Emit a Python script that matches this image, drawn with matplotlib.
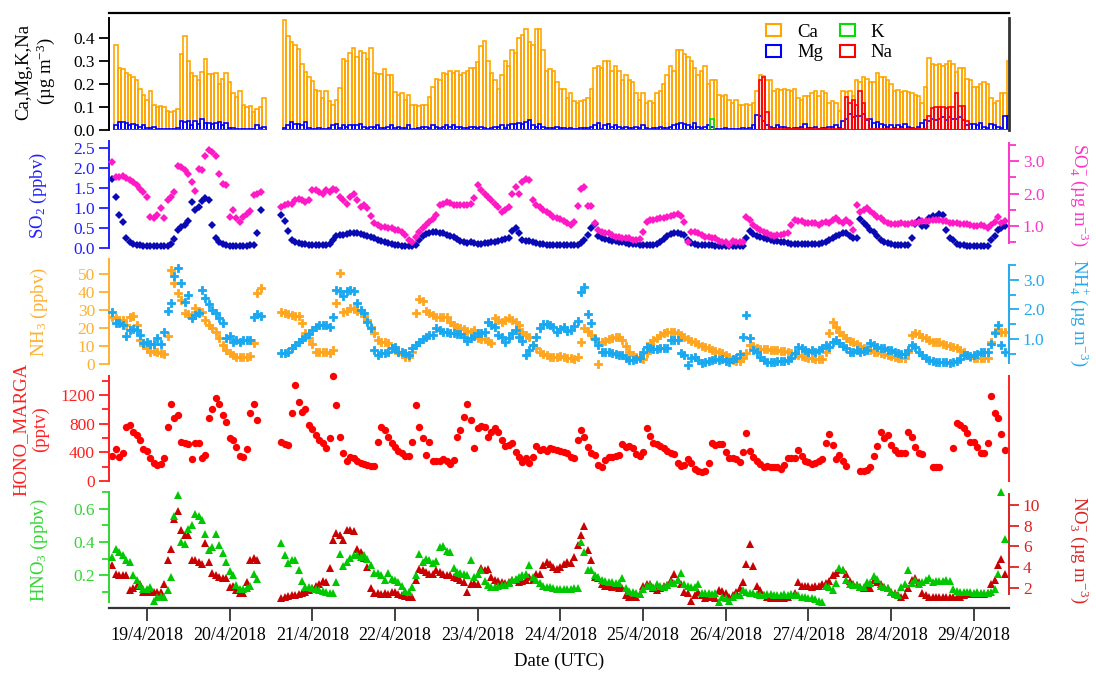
import numpy as np
import pandas as pd
import matplotlib
matplotlib.use("Agg")
import matplotlib.pyplot as plt
import matplotlib.dates as mdates
from matplotlib.patches import Patch
from matplotlib.ticker import FixedLocator, FormatStrFormatter, FuncFormatter

plt.rcParams["font.family"] = ["Liberation Serif", "DejaVu Serif"]
plt.rcParams["mathtext.fontset"] = "custom"
plt.rcParams["mathtext.rm"] = "Liberation Serif"
plt.rcParams["mathtext.it"] = "Liberation Serif:italic"
plt.rcParams["mathtext.default"] = "regular"

nan = float("nan")

# -------------------------------------------------
# DATA (hourly values, two runs with a gap on 20/4)
# -------------------------------------------------
t_run1 = pd.date_range("2018-04-18 14:00", "2018-04-20 09:00", freq="h")
t_run2 = pd.date_range("2018-04-20 15:00", "2018-04-29 09:00", freq="h")

date_ticks = pd.date_range("2018-04-19", "2018-04-29", freq="D")
date_labels = ["19/4/2018", "20/4/2018", "21/4/2018", "22/4/2018", "23/4/2018", "24/4/2018",
               "25/4/2018", "26/4/2018", "27/4/2018", "28/4/2018", "29/4/2018"]

# aerosol cations (ug m-3)
ca_1 = [0.37, 0.27, 0.265, 0.25, 0.24, 0.23, 0.22, 0.18, 0.155, 0.13,
        0.17, 0.11, 0.10, 0.105, 0.10, 0.085, 0.08, 0.085, 0.09, 0.33,
        0.41, 0.30, 0.25, 0.235, 0.22, 0.255, 0.31, 0.245, 0.245, 0.25,
        0.20, 0.225, 0.25, 0.21, 0.16, 0.145, 0.17, 0.11, 0.10, 0.105,
        0.08, 0.09, 0.10, 0.14]
ca_2 = [0.48, 0.41, 0.385, 0.37, 0.355, 0.29, 0.255, 0.23, 0.215,
        0.175, 0.17, 0.14, 0.17, 0.125, 0.11, 0.13, 0.185, 0.31, 0.30, 0.335, 0.36, 0.32, 0.345, 0.335, 0.31, 0.36, 0.25, 0.245, 0.245, 0.265, 0.24, 0.24, 0.165,
        0.155, 0.16, 0.13, 0.155, 0.11, 0.11, 0.105, 0.11, 0.11, 0.145, 0.19, 0.225, 0.22, 0.25, 0.245, 0.26, 0.25, 0.26, 0.24, 0.25, 0.26, 0.27, 0.27, 0.295,
        0.365, 0.39, 0.30, 0.25, 0.22, 0.18, 0.24, 0.30, 0.28, 0.35, 0.335, 0.40, 0.415, 0.44, 0.385, 0.37, 0.44, 0.44, 0.35, 0.26, 0.265, 0.26, 0.21, 0.18,
        0.18, 0.14, 0.16, 0.125, 0.12, 0.125, 0.13, 0.14, 0.18, 0.27, 0.28, 0.27, 0.30, 0.30, 0.26, 0.28, 0.26, 0.22, 0.24, 0.22, 0.21, 0.16, 0.13, 0.16,
        0.12, 0.125, 0.12, 0.16, 0.17, 0.20, 0.24, 0.28, 0.26, 0.35, 0.35, 0.33, 0.32, 0.30, 0.27, 0.24, 0.26, 0.28, 0.20, 0.22, 0.22, 0.155, 0.15, 0.155,
        0.13, 0.12, 0.13, 0.11, 0.11, 0.115, 0.11, 0.12, 0.17, 0.24, 0.235, 0.22, 0.22, 0.17, 0.18, 0.175, 0.18, 0.175, 0.17, 0.18, 0.14, 0.13, 0.15, 0.15,
        0.16, 0.17, 0.15, 0.17, 0.16, 0.12, 0.125, 0.12, 0.085, 0.17, 0.165, 0.17, 0.15, 0.22, 0.21, 0.23, 0.225, 0.21, 0.21, 0.25, 0.23, 0.23, 0.22, 0.20,
        0.17, 0.175, 0.165, 0.17, 0.165, 0.16, 0.155, 0.15, 0.12, 0.19, 0.315, 0.29, 0.285, 0.29, 0.28, 0.29, 0.30, 0.29, 0.255, 0.27, 0.27, 0.225, 0.22, 0.19,
        0.19, 0.20, 0.21, 0.20, 0.14, 0.12, 0.125, 0.16, 0.16, 0.30]

mg_1 = [0.02, 0.035, 0.035, 0.03, 0.02, 0.025, 0.02, 0.015, 0.02, 0.01,
        0.01, 0.015, 0.005, 0.005, 0.005, 0.005, 0.005, 0.005, 0.01, 0.04,
        0.035, 0.04, 0.02, 0.04, 0.025, 0.05, 0.03, 0.03, 0.025, 0.03,
        0.035, 0.02, 0.03, 0.01, 0.01, 0.005, 0.005, 0.005, 0.005, 0.005,
        0.005, 0.02, 0.01, 0.015]
mg_2 = [0.01, 0.02, 0.035, 0.025, 0.025, 0.02, 0.035, 0.01, 0.005,
        0.005, 0.01, 0.005, 0.005, 0.01, 0.02, 0.025, 0.01, 0.02, 0.015, 0.02, 0.02, 0.02, 0.025, 0.015, 0.01, 0.015, 0.015, 0.02, 0.01, 0.01, 0.015, 0.02, 0.01,
        0.015, 0.01, 0.01, 0.02, 0.005, 0.005, 0.01, 0.015, 0.015, 0.01, 0.02, 0.015, 0.01, 0.015, 0.02, 0.015, 0.02, 0.015, 0.015, 0.01, 0.01, 0.015, 0.015, 0.01,
        0.015, 0.01, 0.005, 0.01, 0.015, 0.015, 0.02, 0.01, 0.02, 0.025, 0.025, 0.03, 0.025, 0.035, 0.045, 0.02, 0.015, 0.025, 0.015, 0.01, 0.01, 0.01, 0.015, 0.01,
        0.01, 0.005, 0.01, 0.005, 0.005, 0.01, 0.01, 0.01, 0.015, 0.02, 0.03, 0.005, 0.02, 0.025, 0.015, 0.02, 0.015, 0.01, 0.015, 0.01, 0.01, 0.015, 0.01, 0.02,
        0.01, 0.005, 0.01, 0.01, 0.015, 0.01, 0.01, 0.015, 0.02, 0.025, 0.03, 0.025, 0.02, 0.015, 0.03, 0.015, 0.01, 0.015, 0.02, 0.015, 0.005, 0.005, 0.005, 0.01,
        0.005, 0.005, 0.005, 0.005, 0.01, 0.005, 0.01, 0.02, 0.065, 0.06, 0.04, 0.02, 0.015, 0.01, 0.02, 0.015, 0.015, 0.01, 0.005, 0.01, 0.01, 0.015, 0.025, 0.01,
        0.01, 0.015, 0.005, 0.01, 0.01, 0.015, 0.015, 0.02, 0.01, 0.04, 0.05, 0.07, 0.055, 0.06, 0.06, 0.07, 0.045, 0.05, 0.03, 0.035, 0.025, 0.02, 0.015, 0.02,
        0.01, 0.02, 0.015, 0.025, 0.015, 0.01, 0.005, 0.015, 0.03, 0.045, 0.04, 0.05, 0.045, 0.05, 0.055, 0.045, 0.055, 0.05, 0.05, 0.055, 0.045, 0.02, 0.025, 0.025,
        0.02, 0.03, 0.015, 0.01, 0.025, 0.02, 0.015, 0.01, 0.06, 0.06]

k_1 = [0.0] * 44
k_2 = [0.0] * 124 + [0.05] + [0.0] * 86

na_1 = [0.0] * 44
na_2 = ([0.0] * 138 + [0.22, 0.23, 0.08] + [0.005] * 22
        + [0.145, 0.12, 0.13, 0.11, 0.17, 0.12, 0.05] + [0.005] * 17
        + [0.06, 0.095, 0.10, 0.10, 0.10, 0.095, 0.10, 0.10, 0.16, 0.105, 0.105, 0.04] + [0.0] * 12)

# SO2 (ppbv) and SO4 (ug m-3)
so2_1 = [1.72, 1.28, 0.82, 0.65, 0.25, 0.15, 0.10, 0.07, 0.06, 0.05,
         0.05, 0.05, 0.05, 0.04, 0.04, 0.04, 0.05, 0.10, 0.22, 0.45,
         0.52, 0.58, 0.68, 1.15, 0.95, 1.02, 1.18, 1.25, 1.20, 0.58,
         0.25, 0.15, 0.10, 0.07, 0.05, 0.05, 0.05, 0.05, 0.05, 0.05,
         0.06, 0.08, 0.37, 0.95]
so2_2 = [0.82, 0.68, 0.42, 0.20, 0.15, 0.12, 0.10, 0.09, 0.08,
         0.08, 0.07, 0.07, 0.07, 0.07, 0.10, 0.20, 0.30, 0.33, 0.33, 0.35, 0.36, 0.38, 0.37, 0.35, 0.33, 0.30, 0.27, 0.24, 0.20, 0.17, 0.14, 0.11, 0.09,
         0.07, 0.06, 0.05, 0.05, 0.04, 0.04, 0.08, 0.20, 0.30, 0.35, 0.38, 0.39, 0.40, 0.38, 0.36, 0.33, 0.30, 0.27, 0.22, 0.18, 0.15, 0.12, 0.15, 0.12,
         0.10, 0.10, 0.12, 0.13, 0.15, 0.15, 0.17, 0.20, 0.22, 0.25, 0.42, 0.50, 0.38, 0.20, 0.18, 0.17, 0.15, 0.12, 0.10, 0.09, 0.08, 0.08, 0.08, 0.08,
         0.08, 0.08, 0.08, 0.08, 0.08, 0.08, 0.12, 0.20, 0.32, 0.50, 0.60, 0.30, 0.25, 0.22, 0.20, 0.18, 0.17, 0.15, 0.14, 0.12, 0.10, 0.09, 0.09, 0.08,
         0.08, 0.08, 0.08, 0.08, 0.10, 0.15, 0.22, 0.30, 0.35, 0.37, 0.38, 0.35, 0.32, 0.20, 0.12, 0.10, 0.08, 0.07, 0.07, 0.06, 0.06, 0.05, 0.05, 0.05,
         0.05, 0.05, 0.05, 0.05, 0.05, 0.05, 0.25, 0.42, 0.35, 0.30, 0.27, 0.25, 0.22, 0.20, 0.18, 0.17, 0.15, 0.14, 0.12, 0.10, 0.10, 0.10, 0.10, 0.10,
         0.10, 0.10, 0.10, 0.10, 0.11, 0.15, 0.20, 0.25, 0.30, 0.33, 0.36, 0.38, 0.30, 0.25, 0.25, 0.72, 0.62, 0.55, 0.45, 0.40, 0.30, 0.20, 0.15, 0.12,
         0.10, 0.08, 0.08, 0.07, 0.07, 0.08, 0.25, 0.60, 0.70, 0.55, 0.55, 0.75, 0.80, 0.78, 0.85, 0.82, 0.45, 0.25, 0.20, 0.10, 0.08, 0.06, 0.05, 0.05,
         0.05, 0.05, 0.05, 0.05, 0.05, 0.20, 0.30, 0.45, 0.50, 0.55]

so4_1 = [2.98, 2.51, 2.51, 2.54, 2.48, 2.41, 2.36, 2.26, 2.13, 2.05,
         1.90, 1.28, 1.23, 1.33, 1.55, 1.25, 1.79, 1.90, 2.05, 2.87,
         2.82, 2.72, 2.62, 2.36, 2.09, 2.77, 2.72, 3.18, 3.34, 3.28,
         3.18, 2.62, 2.31, 2.26, 1.28, 1.48, 1.23, 1.12, 1.28, 1.38,
         1.45, 1.95, 2.00, 2.05]
so4_2 = [1.59, 1.64, 1.69, 1.69, 1.79, 1.84, 1.79, 1.74, 1.80,
         2.10, 2.10, 2.05, 2.00, 2.10, 2.05, 2.15, 2.10, 1.90, 1.79, 1.69, 1.90, 2.00, 1.79, 1.59, 1.64, 1.54, 1.30, 1.07, 1.02, 0.97, 0.97, 0.92, 0.92,
         0.87, 0.87, 0.81, 0.71, 0.56, 0.50, 0.66, 0.81, 0.92, 1.02, 1.12, 1.20, 1.33, 1.64, 1.69, 1.74, 1.70, 1.64, 1.64, 1.64, 1.64, 1.64, 1.69, 1.85,
         2.26, 2.10, 2.00, 1.90, 1.79, 1.69, 1.59, 1.43, 1.50, 1.59, 2.00, 2.20, 2.00, 2.36, 2.44, 2.41, 1.80, 1.64, 1.59, 1.48, 1.43, 1.35, 1.28, 1.23,
         1.21, 1.14, 1.10, 1.02, 1.12, 1.62, 2.15, 2.20, 1.62, 1.62, 1.10, 0.87, 0.81, 0.76, 0.76, 0.71, 0.66, 0.66, 0.61, 0.61, 0.61, 0.56, 0.56, 0.58,
         0.79, 1.12, 1.18, 1.18, 1.20, 1.23, 1.25, 1.28, 1.30, 1.33, 1.38, 1.31, 1.12, 0.51, 0.81, 0.81, 0.76, 0.71, 0.66, 0.66, 0.61, 0.61, 0.53, 0.51,
         0.51, 0.40, 0.53, 0.51, 0.50, 0.51, 1.28, 1.18, 1.02, 0.92, 0.87, 0.82, 0.76, 0.72, 0.69, 0.70, 0.72, 0.74, 0.76, 1.02, 1.18, 1.16, 1.14, 1.10,
         1.08, 1.10, 1.10, 1.02, 1.10, 1.12, 1.10, 1.18, 1.23, 1.15, 1.10, 1.18, 1.10, 0.87, 1.64, 1.43, 1.48, 1.54, 1.45, 1.35, 1.28, 1.23, 1.14, 1.10,
         1.04, 1.04, 1.05, 1.07, 1.06, 1.04, 1.07, 1.10, 1.12, 1.14, 1.14, 1.16, 1.18, 1.18, 1.18, 1.16, 1.14, 1.10, 1.07, 1.07, 1.05, 1.04, 1.04, 1.02,
         1.00, 1.00, 1.02, 0.98, 0.92, 1.02, 1.12, 1.28, 1.10, 1.14]

# NH3 (ppbv) and NH4+ (ug m-3)
nh3_1 = [26.4, 25.8, 24.5, 24.5, 21.7, 26.0, 27.0, 21.7, 13.4, 10.6,
         8.7, 6.9, 7.2, 6.5, 5.9, 5.6, 15.5, 52.4, 45.0, 39.4,
         35.7, 28.3, 27.7, 27.3, 31.0, 29.5, 29.2, 24.5, 21.7, 19.9,
         18.0, 14.3, 10.6, 7.8, 5.9, 5.0, 4.1, 4.1, 4.1, 4.1,
         4.3, 11.5, 39.4, 42.6]
nh3_2 = [28.8, 28.5, 28.0, 27.5, 26.5, 27.0, 22.7, 17.5, 14.5,
         11.0, 6.9, 6.9, 6.5, 6.5, 5.9, 7.8, 33.8, 50.6, 29.2, 29.6, 31.0, 30.5, 29.6, 28.8, 27.0, 24.5, 20.8, 17.1, 13.4, 12.5, 12.1, 11.5, 9.1,
         7.8, 6.9, 5.4, 4.1, 4.1, 6.9, 28.3, 36.2, 35.0, 29.6, 28.3, 27.3, 26.4, 26.4, 26.0, 26.4, 23.6, 21.7, 20.8, 19.9, 19.5, 18.4, 18.0, 19.0,
         14.3, 14.0, 13.9, 12.8, 11.5, 25.5, 24.5, 23.6, 24.5, 25.5, 24.5, 23.6, 21.7, 18.0, 16.2, 15.2, 10.6, 8.7, 6.9, 5.4, 5.0, 4.1, 4.1, 4.0,
         4.4, 3.9, 3.5, 3.1, 2.9, 4.0, 12.0, 19.9, 18.4, 16.2, 14.3, 0.0, 12.1, 12.8, 13.9, 14.7, 15.2, 14.8, 13.5, 10.0, 6.9, 5.0, 4.1, 4.1,
         3.0, 5.9, 11.5, 13.4, 14.7, 16.2, 17.1, 17.7, 18.0, 18.0, 17.1, 16.2, 15.2, 13.9, 12.8, 12.1, 11.0, 10.2, 9.7, 8.7, 7.8, 7.2, 6.5, 5.9,
         5.0, 4.1, 2.2, 1.7, 1.7, 3.2, 5.9, 10.6, 10.2, 8.7, 8.4, 8.4, 8.4, 7.8, 7.8, 7.8, 7.2, 7.2, 6.9, 5.9, 5.4, 5.0, 4.6, 4.1,
         3.5, 3.2, 2.8, 2.8, 3.0, 6.5, 17.1, 23.6, 20.8, 18.0, 16.2, 14.3, 12.8, 12.1, 11.0, 10.2, 9.1, 8.4, 7.8, 6.9, 6.5, 5.9, 5.4, 5.0,
         4.6, 4.1, 3.5, 3.2, 3.2, 6.9, 16.2, 17.1, 16.5, 15.2, 14.3, 13.4, 12.1, 12.1, 12.1, 11.0, 10.6, 10.2, 9.7, 8.7, 7.8, 6.9, 5.0, 4.1,
         3.5, 3.2, 3.2, 3.2, 3.5, 12.1, 18.0, 19.0, 18.0, 18.0]

nh4_1 = [1.93, 1.53, 1.53, 1.48, 1.10, 1.30, 1.34, 1.30, 1.13, 0.85,
         0.89, 0.82, 0.82, 1.02, 0.82, 1.25, 1.95, 2.21, 3.15, 3.42,
         2.89, 2.27, 2.49, 1.72, 1.81, 1.87, 2.66, 2.38, 2.18, 1.98,
         1.87, 1.70, 1.53, 1.02, 1.11, 0.89, 0.97, 0.91, 0.95, 0.95,
         0.95, 1.76, 1.84, 1.79]
nh4_2 = [0.51, 0.51, 0.57, 0.68, 0.80, 0.89, 1.00, 1.08, 1.16,
         1.30, 1.42, 1.48, 1.48, 1.48, 1.42, 1.76, 2.66, 2.61, 2.44, 2.61, 2.66, 2.63, 2.21, 1.98, 1.87, 1.59, 1.36, 0.63, 0.46, 0.51, 0.51, 0.57, 0.68,
         0.74, 0.57, 0.55, 0.51, 0.46, 0.68, 0.80, 0.89, 1.00, 1.08, 1.14, 1.14, 1.36, 1.30, 1.25, 1.25, 1.19, 1.19, 1.16, 1.16, 1.08, 0.93, 1.02, 1.11,
         1.19, 1.20, 1.25, 1.59, 1.48, 1.42, 1.14, 1.08, 0.91, 1.02, 1.19, 1.30, 1.08, 0.93, 0.46, 0.63, 0.80, 1.08, 1.36, 1.50, 1.50, 1.48, 1.42, 1.25,
         1.35, 1.42, 1.27, 1.30, 1.45, 1.60, 2.60, 2.77, 1.84, 1.53, 1.00, 0.80, 0.57, 0.57, 0.55, 0.51, 0.48, 0.46, 0.47, 0.34, 0.29, 0.29, 0.32, 0.34,
         0.57, 0.74, 0.68, 0.66, 0.66, 0.68, 0.68, 0.70, 0.97, 0.97, 0.97, 0.51, 0.46, 0.12, 0.34, 0.40, 0.29, 0.18, 0.21, 0.25, 0.29, 0.32, 0.30, 0.32,
         0.25, 0.21, 0.32, 0.34, 0.48, 1.08, 1.81, 1.05, 0.63, 0.57, 0.40, 0.29, 0.23, 0.23, 0.23, 0.24, 0.25, 0.27, 0.29, 0.34, 0.51, 0.74, 0.71, 0.63,
         0.57, 0.63, 0.57, 0.63, 0.71, 0.80, 0.74, 0.91, 0.97, 0.85, 0.77, 0.68, 0.57, 0.55, 0.63, 0.57, 0.60, 0.63, 0.85, 0.80, 0.74, 0.71, 0.68, 0.63,
         0.63, 0.57, 0.51, 0.48, 0.50, 0.63, 0.80, 0.74, 0.57, 0.46, 0.34, 0.29, 0.25, 0.21, 0.21, 0.21, 0.21, 0.18, 0.21, 0.25, 0.32, 0.46, 0.46, 0.44,
         0.45, 0.48, 0.55, 0.55, 0.55, 0.82, 1.19, 1.47, 0.80, 0.57]

# HONO from MARGA (pptv)
hono_1 = [349, 446, 330, 386, 758, 781, 688, 642, 572, 442,
          423, 316, 256, 223, 237, 316, 758, 1074, 883, 921,
          549, 535, 516, 302, 525, 525, 316, 363, 874, 1000,
          1153, 1074, 921, 828, 595, 572, 470, 349, 330, 442,
          953, 1074, 851, nan]
hono_2 = [549, 516, 502, 944, 1339, 1107, 967, 1000, 781,
          721, 642, 572, 525, 456, 595, 1465, 1060, 619, 386, 284, 330, 316, 284, 256, 237, 223, 209, 209, 549, 758, 711, 619, 535,
          479, 423, 386, 349, 349, 549, 1060, 749, 595, 363, 549, 284, 284, 284, 302, 284, 237, 293, 619, 711, 897, 1070, 851, 456,
          735, 767, 749, 619, 688, 735, 688, 572, 488, 502, 525, 409, 330, 270, 316, 246, 340, 488, 432, 442, 423, 456, 442, 430,
          423, 400, 386, 330, 316, 572, 711, 619, 470, 395, 363, 223, 191, 293, 330, 340, 349, 363, 516, 479, 488, 456, 377, 349,
          409, 735, 628, 535, 516, 488, 456, 423, 395, 377, 246, 209, 223, 302, 246, 163, 144, 130, 144, 256, 535, 502, 516, 516,
          409, 316, 316, 302, 270, 409, 674, 423, 330, 284, 237, 191, 209, 191, 191, 200, 163, 223, 316, 316, 316, 432, 349, 284,
          270, 237, 256, 284, 302, 535, 651, 502, 302, 363, 284, 209, nan, nan, nan, 144, 144, 153, 191, 349, 488, 688, 595, 642,
          502, 432, 395, 395, 395, 688, 619, 470, 395, 377, nan, nan, 191, 191, 191, nan, nan, nan, 456, 814, 781, 735, 674, 549,
          549, 479, 395, 395, 535, 1186, 953, 874, 656, 432]

# HNO3 (ppbv) and NO3- (ug m-3)
hno3_1 = [0.31, 0.36, 0.34, 0.32, 0.29, 0.28, 0.20, 0.17, 0.14, 0.114,
          0.114, 0.126, 0.046, 0.066, 0.074, 0.07, 0.11, 0.19, 0.56, 0.686,
          0.40, 0.39, 0.48, 0.50, 0.57, 0.56, 0.53, 0.45, 0.35, 0.37,
          0.45, 0.38, 0.334, 0.28, 0.226, 0.20, 0.14, 0.114, 0.114, 0.12,
          0.134, 0.21, 0.18, nan]
hno3_2 = [0.394, 0.32, 0.274, 0.29, 0.294, 0.23, 0.166, 0.13, 0.126,
          0.12, 0.114, 0.11, 0.106, 0.10, 0.09, 0.09, 0.16, 0.33, 0.254, 0.28, 0.306, 0.32, 0.32, 0.31, 0.32, 0.30, 0.26, 0.214, 0.214, 0.20, 0.174, 0.214, 0.18,
          0.174, 0.16, 0.134, 0.106, 0.10, 0.126, 0.20, 0.326, 0.28, 0.30, 0.29, 0.274, 0.286, 0.37, 0.374, 0.346, 0.34, 0.246, 0.22, 0.214, 0.206, 0.20, 0.29, 0.19,
          0.206, 0.23, 0.166, 0.14, 0.13, 0.126, 0.134, 0.14, 0.14, 0.154, 0.17, 0.18, 0.19, 0.20, 0.21, 0.26, 0.19, 0.174, 0.15, 0.134, 0.13, 0.126, 0.12, 0.114,
          0.114, 0.114, 0.114, 0.114, 0.12, 0.12, 0.40, 0.34, 0.23, 0.234, 0.20, 0.19, 0.174, 0.166, 0.16, 0.16, 0.154, 0.15, 0.186, 0.12, 0.106, 0.10, 0.094, 0.086,
          0.114, 0.134, 0.14, 0.126, 0.146, 0.134, 0.13, 0.14, 0.16, 0.154, 0.17, 0.214, 0.146, 0.134, 0.126, 0.126, 0.146, 0.09, 0.09, 0.094, 0.086, 0.09, 0.04, 0.07,
          0.06, 0.046, 0.07, 0.08, 0.08, 0.11, 0.10, 0.094, 0.09, 0.086, 0.08, 0.08, 0.085, 0.085, 0.08, 0.08, 0.08, 0.086, 0.08, 0.086, 0.08, 0.08, 0.066, 0.066,
          0.06, 0.06, 0.054, 0.046, 0.04, 0.134, 0.126, 0.11, 0.15, 0.246, 0.23, 0.17, 0.146, 0.14, 0.14, 0.13, 0.13, 0.16, 0.15, 0.194, 0.18, 0.134, 0.126, 0.12,
          0.10, 0.086, 0.08, 0.13, 0.146, 0.23, 0.15, 0.17, 0.146, 0.16, 0.174, 0.186, 0.16, 0.166, 0.166, 0.166, 0.17, 0.166, 0.114, 0.106, 0.10, 0.10, 0.10, 0.10,
          0.094, 0.10, 0.094, 0.094, 0.094, 0.10, 0.114, 0.206, 0.70, 0.42]

no3_1 = [4.21, 3.36, 3.26, 3.26, 3.26, 1.84, 2.0, 2.22, 2.41, 1.68,
         1.68, 1.68, 1.68, 1.68, 1.68, 2.47, 4.75, 5.79, 8.64, 9.36,
         7.59, 7.06, 7.06, 4.69, 4.69, 4.53, 4.37, 6.33, 4.53, 3.49,
         3.26, 3.11, 2.95, 2.95, 2.16, 2.22, 1.84, 1.53, 1.6, 2.63,
         4.75, 4.94, 4.75, nan]
no3_2 = [1.05, 1.15, 1.27, 1.37, 1.37, 1.45, 1.53, 1.68, 1.84,
         2.0, 2.22, 2.47, 2.73, 2.63, 3.99, 6.58, 7.28, 7.06, 6.65, 7.59, 7.53, 7.47, 5.79, 5.48, 4.94, 4.05, 2.0, 1.59, 1.53, 1.46, 1.53, 1.46, 1.68,
         1.68, 1.46, 1.37, 1.27, 1.21, 1.2, 2.79, 3.9, 3.74, 3.58, 3.42, 3.42, 3.8, 3.6, 3.42, 3.26, 3.26, 3.11, 2.95, 2.85, 2.63, 1.68, 2.41, 2.53,
         2.47, 3.99, 3.74, 3.9, 3.11, 2.79, 2.73, 2.63, 2.53, 2.6, 2.79, 2.79, 2.63, 2.7, 2.79, 3.11, 2.85, 3.42, 3.36, 4.21, 4.53, 4.37, 4.0, 3.9,
         4.0, 4.3, 4.53, 4.43, 5.0, 6.11, 7.06, 8.0, 5.63, 4.69, 3.11, 2.95, 2.47, 2.22, 2.22, 2.16, 2.2, 2.09, 2.09, 1.37, 1.21, 1.15, 1.2, 1.46,
         2.22, 2.41, 2.41, 2.09, 1.9, 2.09, 2.2, 2.32, 2.85, 3.36, 2.79, 2.41, 1.68, 1.53, 0.83, 1.37, 1.68, 1.37, 1.05, 1.15, 1.21, 1.1, 1.9, 1.78,
         1.53, 1.21, 1.37, 1.68, 2.09, 2.63, 4.37, 6.27, 4.12, 2.22, 1.84, 1.37, 1.15, 1.05, 1.1, 1.05, 1.1, 1.05, 1.21, 1.37, 1.59, 2.63, 2.22, 2.22,
         2.22, 2.16, 2.22, 2.22, 2.41, 2.5, 2.73, 3.26, 3.49, 3.74, 3.74, 3.36, 2.73, 2.41, 2.32, 2.16, 2.09, 2.09, 2.09, 2.79, 2.63, 2.41, 2.16, 2.0,
         1.68, 1.59, 1.37, 1.21, 1.37, 2.09, 2.79, 2.95, 2.63, 1.53, 1.37, 1.21, 1.21, 1.21, 1.21, 1.21, 1.21, 1.21, 1.21, 1.21, 1.21, 1.37, 1.46, 1.46,
         1.46, 1.46, 1.46, 1.46, 1.59, 2.41, 2.85, 4.21, 4.84, 3.42]


# -------------------------------------------------
# HELPERS
# -------------------------------------------------

def join(a, b):
    assert len(a) == len(t_run1) and len(b) == len(t_run2), (len(a), len(b))
    return np.array(a + b, dtype=float)


def style_y(ax, side, color, lo, hi, major, minor=(), fmt=None):
    for s in ["top", "bottom", "left", "right"]:
        ax.spines[s].set_visible(False)
    sp = ax.spines[side]
    sp.set_visible(True)
    sp.set_color(color)
    sp.set_linewidth(1.4)
    sp.set_bounds(lo, hi)
    ax.yaxis.set_ticks_position(side)
    ax.yaxis.set_major_locator(FixedLocator(major))
    ax.yaxis.set_minor_locator(FixedLocator(list(minor)))
    if fmt:
        ax.yaxis.set_major_formatter(FormatStrFormatter(fmt))
    ax.tick_params(axis="y", which="both", colors=color, direction="out", width=1.3, labelsize=12.5, pad=3)
    ax.tick_params(axis="y", which="major", length=7)
    ax.tick_params(axis="y", which="minor", length=5)
    ax.tick_params(axis="x", which="both", bottom=False, labelbottom=False)
    ax.patch.set_visible(False)


def ylab(ax, text, xpos, color, rot=90):
    ax.text(xpos, 0.5, text, transform=ax.transAxes, rotation=rot, color=color,
            ha="center", va="center", fontsize=13.5, linespacing=1.15)


# -------------------------------------------------
# FIGURE
# -------------------------------------------------
t = mdates.date2num(np.concatenate([t_run1.values, t_run2.values]))
hour = 1.0 / 24

fig = plt.figure(figsize=(10.96, 6.75), dpi=100)
W, H = 1096.0, 675.0


def panel(top, bottom):
    return fig.add_axes([109 / W, 1 - bottom / H, 900 / W, (bottom - top) / H])


xlim = (mdates.date2num(pd.Timestamp("2018-04-18 13:00")), mdates.date2num(pd.Timestamp("2018-04-29 10:12")))
plus = dict(ls="none", marker="P", ms=6.0, mew=0.6, clip_on=False)

# ---- panel 1: cations
ax1 = panel(13.3, 130)
bar_x = t + 0.5 * hour
ax1.bar(bar_x, join(ca_1, ca_2), width=hour, align="edge", facecolor="none", edgecolor="#FFA500", linewidth=1.2)
ax1.bar(bar_x, join(mg_1, mg_2), width=hour, align="edge", facecolor="none", edgecolor="#0000FF", linewidth=1.2)
ax1.bar(bar_x, join(k_1, k_2), width=hour, align="edge", facecolor="none", edgecolor="#00E000", linewidth=1.2)
ax1.bar(bar_x, join(na_1, na_2), width=hour, align="edge", facecolor=(1, 0, 0, 0.12), edgecolor="#FF0000", linewidth=1.2)
ax1.set_ylim(0, 0.51)
style_y(ax1, "left", "black", 0, 0.488, [0, 0.1, 0.2, 0.3, 0.4], fmt="%.1f")
ax1.spines["top"].set_visible(True)
ax1.spines["top"].set_linewidth(1.6)
ax1.spines["right"].set_visible(True)
ax1.spines["right"].set_linewidth(2.0)
ax1.spines["right"].set_color("#333333")
ax1.spines["right"].set_bounds(0, 0.488)
ylab(ax1, "Ca,Mg,K,Na\n(µg m$^{-3}$)", -0.081, "black")
handles = [Patch(facecolor="none", edgecolor=c, linewidth=1.5) for c in ["#FFA500", "#0000FF", "#00E000", "#FF0000"]]
ax1.legend(handles, ["Ca", "Mg", "K", "Na"], ncol=2, loc="upper left", bbox_to_anchor=(0.722, 0.975),
           frameon=False, fontsize=13.5, handlelength=0.8, handleheight=0.6, columnspacing=0.9,
           handletextpad=0.85, labelspacing=0.2, borderaxespad=0)

# ---- panel 2: SO2 / SO4
ax2 = panel(140.5, 250.1)
ax2.plot(t, join(so2_1, so2_2), ls="none", marker="D", ms=4.4, mew=0, color="#0A0AB4", clip_on=False)
ax2.set_ylim(-0.06, 2.68)
style_y(ax2, "left", "#2020FF", 0, 2.68, [0, 0.5, 1.0, 1.5, 2.0, 2.5], fmt="%.1f")
ylab(ax2, "SO$_2$ (ppbv)", -0.078, "#2020FF")
ax2r = ax2.twinx()
ax2r.plot(t, join(so4_1, so4_2), ls="none", marker="D", ms=4.4, mew=0, color="#FF1AC6", clip_on=False)
ax2r.set_ylim(0.243, 3.649)
style_y(ax2r, "right", "#FF33CC", 0.46, 3.58, [1, 2, 3], minor=[0.5, 1.5, 2.5, 3.5], fmt="%.1f")
ylab(ax2r, "SO$_4^{-}$ (µg m$^{-3}$)", 1.078, "#FF33CC", rot=270)

# ---- panel 3: NH3 / NH4
ax3 = panel(259, 365.8)
ax3.plot(t, join(nh3_1, nh3_2), color="#FFA51E", mec="#FFA51E", **plus)
ax3.set_ylim(-1, 58.5)
style_y(ax3, "left", "#FFB030", 0, 58.5, [0, 10, 20, 30, 40, 50], fmt="%d")
ylab(ax3, "NH$_3$ (ppbv)", -0.077, "#FFB030")
ax3r = ax3.twinx()
ax3r.plot(t, join(nh4_1, nh4_2), color="#18A8F0", mec="#18A8F0", **plus)
ax3r.set_ylim(0.092, 3.71)
style_y(ax3r, "right", "#22AAEE", 0.2, 3.5, [1, 2, 3], minor=[0.5, 1.5, 2.5, 3.5], fmt="%.1f")
ylab(ax3r, "NH$_4^{+}$ (µg m$^{-3}$)", 1.078, "#22AAEE", rot=270)

# ---- panel 4: HONO
ax4 = panel(376, 483.2)
ax4.plot(t, join(hono_1, hono_2), ls="none", marker="o", ms=5.3, mew=0, color="#FF0000", clip_on=False)
ax4.set_ylim(-30, 1465)
style_y(ax4, "left", "#FF2020", 0, 1465, [0, 400, 800, 1200], minor=[200, 600, 1000, 1400], fmt="%d")
ax4.spines["right"].set_visible(True)
ax4.spines["right"].set_color("#FF2020")
ax4.spines["right"].set_linewidth(1.4)
ax4.spines["right"].set_bounds(0, 1465)
ylab(ax4, "HONO_MARGA\n(pptv)", -0.087, "#FF2020")

# ---- panel 5: HNO3 / NO3
ax5 = panel(492.3, 607.7)
ax5.plot(t, join(hno3_1, hno3_2), ls="none", marker="^", ms=5.5, mew=0, color="#00C800", clip_on=False, zorder=3)
ax5.set_ylim(0.004, 0.70)
style_y(ax5, "left", "#33D633", 0.04, 0.70, [0.2, 0.4, 0.6], minor=[0.1, 0.3, 0.5, 0.7], fmt="%.1f")
ylab(ax5, "HNO$_3$ (ppbv)", -0.077, "#33D633")
ax5r = ax5.twinx()
ax5r.plot(t, join(no3_1, no3_2), ls="none", marker="^", ms=5.5, mew=0, color="#C80000", clip_on=False, zorder=2)
ax5r.set_ylim(0.167, 11.164)
style_y(ax5r, "right", "#DD2222", 1.5, 11, [2, 4, 6, 8, 10], fmt="%d")
ylab(ax5r, "NO$_3^{-}$ (µg m$^{-3}$)", 1.078, "#DD2222", rot=270)
ax5.set_zorder(ax5r.get_zorder() + 1)

# shared time axis
for ax in [ax1, ax2, ax2r, ax3, ax3r, ax4, ax5, ax5r]:
    ax.set_xlim(xlim)

ax5.spines["bottom"].set_visible(True)
ax5.spines["bottom"].set_color("#333333")
ax5.spines["bottom"].set_linewidth(1.6)
ax5.xaxis.set_major_locator(FixedLocator(mdates.date2num(date_ticks)))
ax5.xaxis.set_major_formatter(FuncFormatter(lambda v, pos: date_labels[pos] if pos is not None and pos < len(date_labels) else ""))
ax5.tick_params(axis="x", which="major", bottom=True, labelbottom=True, direction="out",
                length=9, width=1.3, colors="#333333", labelcolor="black", labelsize=13, pad=5)
ax5.set_xlabel("Date (UTC)", fontsize=13.5, labelpad=6)

fig.savefig("out.png", dpi=100)
